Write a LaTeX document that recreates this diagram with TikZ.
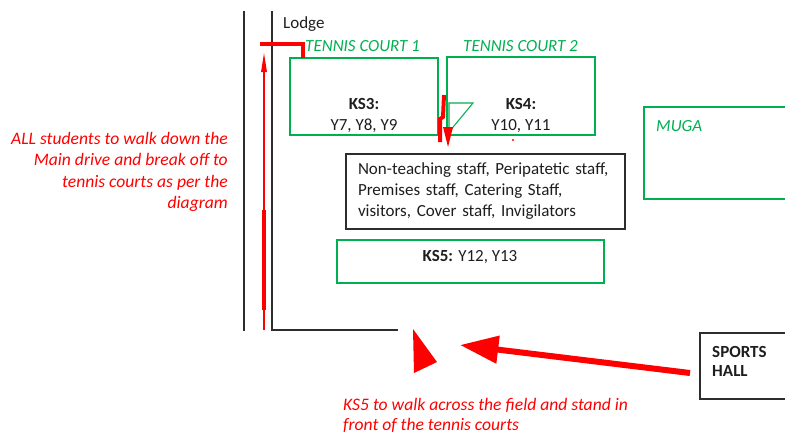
\documentclass[tikz,border=0pt]{standalone}
\usepackage{fontspec}
\setmainfont{Carlito}
\usetikzlibrary{arrows.meta, positioning, calc}
\definecolor{courtgreen}{RGB}{0,176,80}
\definecolor{routered}{RGB}{255,0,0}
\definecolor{edgegray}{RGB}{45,45,45}
\definecolor{textgray}{RGB}{30,30,30}
\newdimen\pxu
\pxu=0.03cm

\begin{document}
\begin{tikzpicture}[
  x=0.03cm, y=-0.03cm,
  font=\fontsize{14.5}{17.9}\selectfont,
  court/.style    = {rectangle, draw=courtgreen, line width=0.9pt, inner sep=0pt},
  plainbox/.style = {rectangle, draw=edgegray, line width=0.9pt, inner sep=0pt},
  courtlbl/.style = {text=courtgreen, font=\fontsize{14.5}{17.9}\selectfont\itshape, inner sep=0pt},
  yrtxt/.style    = {text=textgray, inner sep=0pt},
  note/.style     = {text=routered, font=\fontsize{15}{18.3}\selectfont\itshape, inner sep=0pt},
  fence/.style    = {draw=edgegray, line width=1.1pt},
  route/.style    = {draw=routered, line width=0.06cm},
  bigarr/.style   = {draw=routered, line width=0.18cm,
                     -{Triangle[length=1.15cm, width=0.8cm]}},
]
  \useasboundingbox (0,0) rectangle (785,434);

  \coordinate (f1top) at (244,11);
  \coordinate (f1bot) at (244,331);
  \coordinate (f2top) at (272,11);
  \coordinate (f2cor) at (272,330);
  \coordinate (f2end) at (398,330);
  \draw[fence] (f1top) -- (f1bot);
  \draw[fence] (f2top) -- (f2cor) -- (f2end);
  \node[yrtxt, anchor=base west] (lodge) at (283,28) {Lodge};

  \node[court, minimum width=148\pxu, minimum height=77\pxu] (court1) at (364,96.5) {};
  \node[court, minimum width=148\pxu, minimum height=78\pxu] (court2) at (521,96) {};
  \node[courtlbl, anchor=base west] (court1lbl) at (305,51) {TENNIS COURT 1};
  \node[courtlbl, anchor=base west] (court2lbl) at (463,51) {TENNIS COURT 2};
  \node[yrtxt, anchor=base] (ks3) at (364,109) {\textbf{KS3:}};
  \node[yrtxt, anchor=base] (ks3yr) at (364,130) {Y7, Y8, Y9};
  \node[yrtxt, anchor=base] (ks4) at (521,109) {\textbf{KS4:}};
  \node[yrtxt, anchor=base] (ks4yr) at (521,130) {Y10, Y11};
  \draw[courtgreen, line width=0.9pt] (449,103) -- (473,103) -- (449,132) -- cycle;

  \node[court, minimum width=160\pxu, minimum height=92\pxu] (muga) at (724,153) {};
  \node[courtlbl, anchor=base west] (mugalbl) at (656,131) {MUGA};

  \node[plainbox, minimum width=279\pxu, minimum height=75\pxu, text width=255\pxu,
        align=left, inner xsep=12\pxu, text=textgray] (staff) at (485.5,191.5)
    {Non-teaching staff, Peripatetic staff,\\Premises staff, Catering Staff,\\visitors, Cover staff, Invigilators};

  \node[court, minimum width=267\pxu, minimum height=43\pxu] (ks5box) at (470.5,261.5) {};
  \node[yrtxt, anchor=base] (ks5) at (470,261) {\textbf{KS5:} Y12, Y13};

  \node[plainbox, minimum width=100\pxu, minimum height=66\pxu] (hall) at (750,366) {};
  \node[yrtxt, anchor=base west, font=\fontsize{14.5}{18.5}\selectfont\bfseries]
    (halllbl) at (712,357) {SPORTS};
  \node[yrtxt, anchor=base west, font=\fontsize{14.5}{18.5}\selectfont\bfseries]
    (halllbl2) at (712,376) {HALL};

  \node[note, align=right, anchor=east] (walknote) at (228,172)
    {ALL students to walk down the\\Main drive and break off to\\tennis courts as per the\\diagram};
  \node[note, anchor=base west] (fieldnote) at (343,410)
    {KS5 to walk across the field and stand in};
  \node[note, anchor=base west] (fieldnote2) at (343,430) {front of the tennis courts};

  \coordinate (drivebot) at (264,330);
  \coordinate (drivetop) at (264,52);
  \draw[route, -{Triangle[length=0.6cm, width=0.16cm]}] (drivebot) -- (drivetop);
  \draw[routered, line width=0.12cm] (264,210) -- (264,310);
  \coordinate (lodgeturn) at (260,44);
  \draw[routered, line width=0.13cm] (lodgeturn) -- (303,44) -- (303,58);

  \coordinate (gaptop) at (444,95);
  \coordinate (gapbot) at (448,147);
  \draw[routered, line width=0.12cm] (gaptop) -- (443,117) -- (440,119) -- (440,142);
  \fill[routered] (443,127) -- (453,127) -- (gapbot) -- cycle;
  \fill[routered] (513,140) circle (1.2);

  \coordinate (hallstart) at (690,373);
  \coordinate (hallend) at (460,345);
  \draw[bigarr] (hallstart) -- (hallend);
  \fill[routered] (413,329) -- (437,362) -- (414,373) -- cycle;
\end{tikzpicture}
\end{document}
